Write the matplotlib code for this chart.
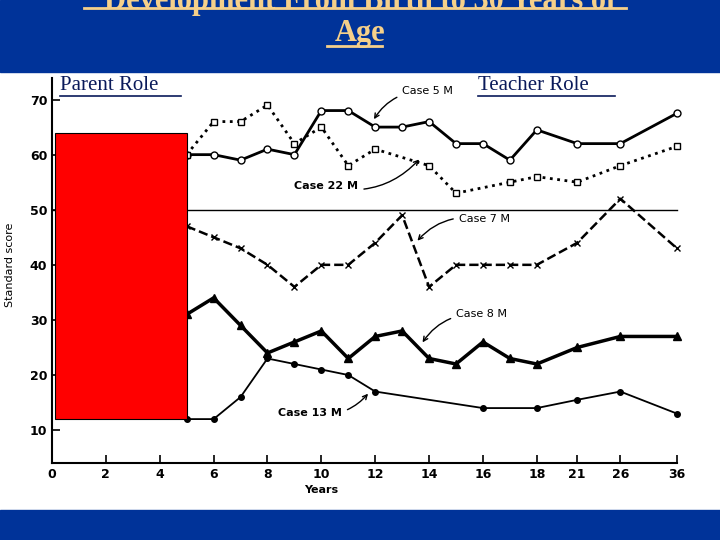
import matplotlib.pyplot as plt
from matplotlib.patches import Rectangle
from matplotlib.lines import Line2D

# x positions: linear to 18, then compressed (axis break)
tick_years = [0, 2, 4, 6, 8, 10, 12, 14, 16, 18, 21, 26, 36]
year_pos = {y: y for y in range(19)}
year_pos.update({21: 19.5, 26: 21.1, 36: 23.2})

case5_years = [5, 6, 7, 8, 9, 10, 11, 12, 13, 14, 15, 16, 17, 18, 21, 26, 36]
case5_vals = [60, 60, 59, 61, 60, 68, 68, 65, 65, 66, 62, 62, 59, 64.5, 62, 62, 67.5]
case22_years = [5, 6, 7, 8, 9, 10, 11, 12, 14, 15, 17, 18, 21, 26, 36]
case22_vals = [60, 66, 66, 69, 62, 65, 58, 61, 58, 53, 55, 56, 55, 58, 61.5]
case7_years = [5, 6, 7, 8, 9, 10, 11, 12, 13, 14, 15, 16, 17, 18, 21, 26, 36]
case7_vals = [47, 45, 43, 40, 36, 40, 40, 44, 49, 36, 40, 40, 40, 40, 44, 52, 43]
case8_years = [5, 6, 7, 8, 9, 10, 11, 12, 13, 14, 15, 16, 17, 18, 21, 26, 36]
case8_vals = [31, 34, 29, 24, 26, 28, 23, 27, 28, 23, 22, 26, 23, 22, 25, 27, 27]
case13_years = [5, 6, 7, 8, 9, 10, 11, 12, 16, 18, 21, 26, 36]
case13_vals = [12, 12, 16, 23, 22, 21, 20, 17, 14, 14, 15.5, 17, 13]

W, H = 720, 540
fig = plt.figure(figsize=(7.2, 5.4), dpi=100)
ax = fig.add_axes([0, 30 / H, 1, (510 - 30) / H * 0 + 438 / H * 1.0])
ax.set_position([0, 30 / H, 1, 438 / H])
ax.set_xlim(-1.93, 24.8)
ax.set_ylim(-4.5, 75)

def P(years):
    return [year_pos[y] for y in years]

ax.plot([0, 23.2], [50, 50], color='black', lw=1)
ax.plot(P(case5_years), case5_vals, '-o', color='black', lw=2, ms=5, mfc='white')
ax.plot(P(case22_years), case22_vals, ':s', color='black', lw=2, ms=4, mfc='white')
ax.plot(P(case7_years), case7_vals, '--x', color='black', lw=1.8, ms=5)
ax.plot(P(case8_years), case8_vals, '-^', color='black', lw=2.5, ms=6)
ax.plot(P(case13_years), case13_vals, '-o', color='black', lw=1.3, ms=4)

ax.add_patch(Rectangle((0.1, 12), 4.9, 52, facecolor='#ff0000', edgecolor='black', lw=0.8, zorder=5))

for s in ['top', 'right']:
    ax.spines[s].set_visible(False)
ax.spines['left'].set_position(('data', 0))
ax.spines['left'].set_bounds(4, 74)
ax.spines['bottom'].set_position(('data', 4))
ax.spines['bottom'].set_bounds(0, 23.2)
ax.spines['left'].set_linewidth(1.5)
ax.spines['bottom'].set_linewidth(1.5)
ax.set_yticks([10, 20, 30, 40, 50, 60, 70])
ax.set_xticks(P(tick_years))
ax.set_xticklabels([str(y) for y in tick_years])
ax.tick_params(labelsize=9, width=1.2)
ax.tick_params(axis='x', direction='in', length=6)
ax.tick_params(axis='y', direction='in', length=6)
for t in ax.get_xticklabels() + ax.get_yticklabels():
    t.set_fontweight('bold')
ax.text(-1.55, 40, 'Standard score', rotation=90, fontsize=8, va='center', ha='center')
ax.text(10, -1.5, 'Years', fontsize=8, ha='center', fontweight='bold')

arrow = dict(arrowstyle='->', color='black', lw=1)
ax.annotate('Case 5 M', xy=(11.9, 66), xytext=(13.0, 71), fontsize=8, arrowprops=dict(arrowstyle='->', color='black', connectionstyle='arc3,rad=0.3', lw=1))
ax.annotate('Case 22 M', xy=(13.7, 59.5), xytext=(9.0, 53.7), fontsize=8, fontweight='bold', arrowprops=dict(arrowstyle='->', color='black', connectionstyle='arc3,rad=0.3', lw=1))
ax.annotate('Case 7 M', xy=(13.5, 44), xytext=(15.1, 47.7), fontsize=8, arrowprops=dict(arrowstyle='->', color='black', connectionstyle='arc3,rad=0.3', lw=1))
ax.annotate('Case 8 M', xy=(13.7, 25.5), xytext=(15.0, 30.5), fontsize=8, arrowprops=dict(arrowstyle='->', color='black', connectionstyle='arc3,rad=0.3', lw=1))
ax.annotate('Case 13 M', xy=(11.8, 17), xytext=(8.4, 12.5), fontsize=8, fontweight='bold', arrowprops=dict(arrowstyle='->', color='black', connectionstyle='arc3,rad=0.3', lw=1))

# blue bands
blue = '#003399'
fig.add_artist(Rectangle((0, 1 - 72 / H), 1, 72 / H, transform=fig.transFigure, color=blue, zorder=10))
fig.add_artist(Rectangle((0, 0), 1, 30 / H, transform=fig.transFigure, color=blue, zorder=10))

gold = '#f5d08a'
fig.text(0.5, 1 - 2 / H, 'Development From Birth to 30 Years of', color=gold, fontsize=22,
         fontweight='bold', family='Liberation Serif', ha='center', va='center', zorder=11)
fig.add_artist(Line2D([84 / W, 626 / W], [1 - 8 / H, 1 - 8 / H], color=gold, lw=2, zorder=11))
fig.text(0.5, 1 - 33 / H, 'Age', color=gold, fontsize=22, fontweight='bold',
         family='Liberation Serif', ha='center', va='center', zorder=11)
fig.add_artist(Line2D([327 / W, 382 / W], [1 - 46 / H, 1 - 46 / H], color=gold, lw=2, zorder=11))

navy = '#0a1a5a'
fig.text(60 / W, 1 - 85 / H, 'Parent Role', color=navy, fontsize=15, family='Liberation Serif',
         va='center', zorder=11)
fig.add_artist(Line2D([60 / W, 181 / W], [1 - 96 / H, 1 - 96 / H], color=navy, lw=1.2, zorder=11))
fig.text(478 / W, 1 - 85 / H, 'Teacher Role', color=navy, fontsize=15, family='Liberation Serif',
         va='center', zorder=11)
fig.add_artist(Line2D([478 / W, 615 / W], [1 - 96 / H, 1 - 96 / H], color=navy, lw=1.2, zorder=11))

fig.savefig('out.png', dpi=100)
